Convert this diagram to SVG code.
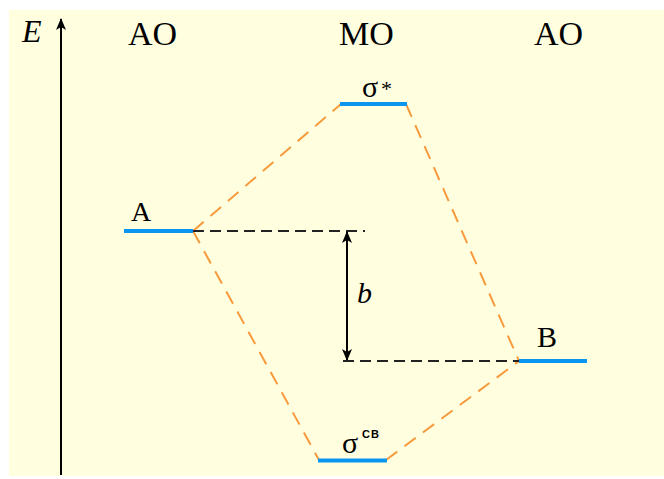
<svg xmlns="http://www.w3.org/2000/svg" width="664" height="479" viewBox="0 0 664 479">
<style>
.lbl{font-family:"Liberation Serif",serif;fill:#000}
.it{font-family:"Liberation Serif",serif;font-style:italic;fill:#000}
.lvl{stroke:#0a96f0;stroke-width:4;fill:none}
.cor{stroke:#f79a3c;stroke-width:2;stroke-dasharray:14 9;fill:none}
.ref{stroke:#222;stroke-width:2;stroke-dasharray:11 6;fill:none}
.ax{stroke:#000;stroke-width:2;fill:none}
</style>
<defs>
<marker id="ah" viewBox="0 0 12 10" refX="11" refY="5" markerWidth="12" markerHeight="10" markerUnits="userSpaceOnUse" orient="auto">
<path d="M0,0 L12,5 L0,10 L3,5 Z" fill="#000"/>
</marker>
</defs>
<rect x="9" y="10" width="655" height="466" fill="#ffffe0"/>
<g id="axis">
<line class="ax" x1="61" y1="475" x2="61" y2="19" marker-end="url(#ah)"/>
<text class="it" x="22" y="42" font-size="32">E</text>
</g>
<g id="headers">
<text class="lbl" x="128" y="45" font-size="34">AO</text>
<text class="lbl" x="339" y="45" font-size="34">MO</text>
<text class="lbl" x="534" y="45" font-size="34">AO</text>
</g>
<g id="connectors">
<line class="cor" x1="193" y1="231" x2="341" y2="104"/>
<line class="cor" x1="406" y1="104" x2="519" y2="361"/>
<line class="cor" x1="193" y1="231" x2="319" y2="460"/>
<line class="cor" x1="386" y1="460" x2="519" y2="361"/>
<line class="ref" x1="193" y1="231" x2="365" y2="231"/>
<line class="ref" x1="343" y1="361" x2="519" y2="361"/>
<line class="ax" x1="347" y1="296" x2="347" y2="232" marker-end="url(#ah)"/>
<line class="ax" x1="347" y1="296" x2="347" y2="360" marker-end="url(#ah)"/>
<text class="it" x="357" y="303" font-size="30">b</text>
</g>
<g id="A">
<line class="lvl" x1="124" y1="231" x2="193" y2="231"/>
<text class="lbl" x="131" y="221" font-size="28">A</text>
</g>
<g id="sigma-star">
<line class="lvl" x1="340" y1="104" x2="407" y2="104"/>
<text class="lbl" x="362" y="97" font-size="30">σ</text>
<text class="lbl" x="381" y="96" font-size="22">*</text>
</g>
<g id="sigma-cb">
<line class="lvl" x1="318" y1="460.5" x2="387" y2="460.5"/>
<text class="lbl" x="342" y="453" font-size="30">σ</text>
<text x="362" y="438" font-size="11" font-weight="bold" font-family="Liberation Sans, sans-serif" letter-spacing="1">CB</text>
</g>
<g id="B">
<line class="lvl" x1="519" y1="361" x2="587" y2="361"/>
<text class="lbl" x="537" y="347" font-size="30">B</text>
</g>
</svg>
